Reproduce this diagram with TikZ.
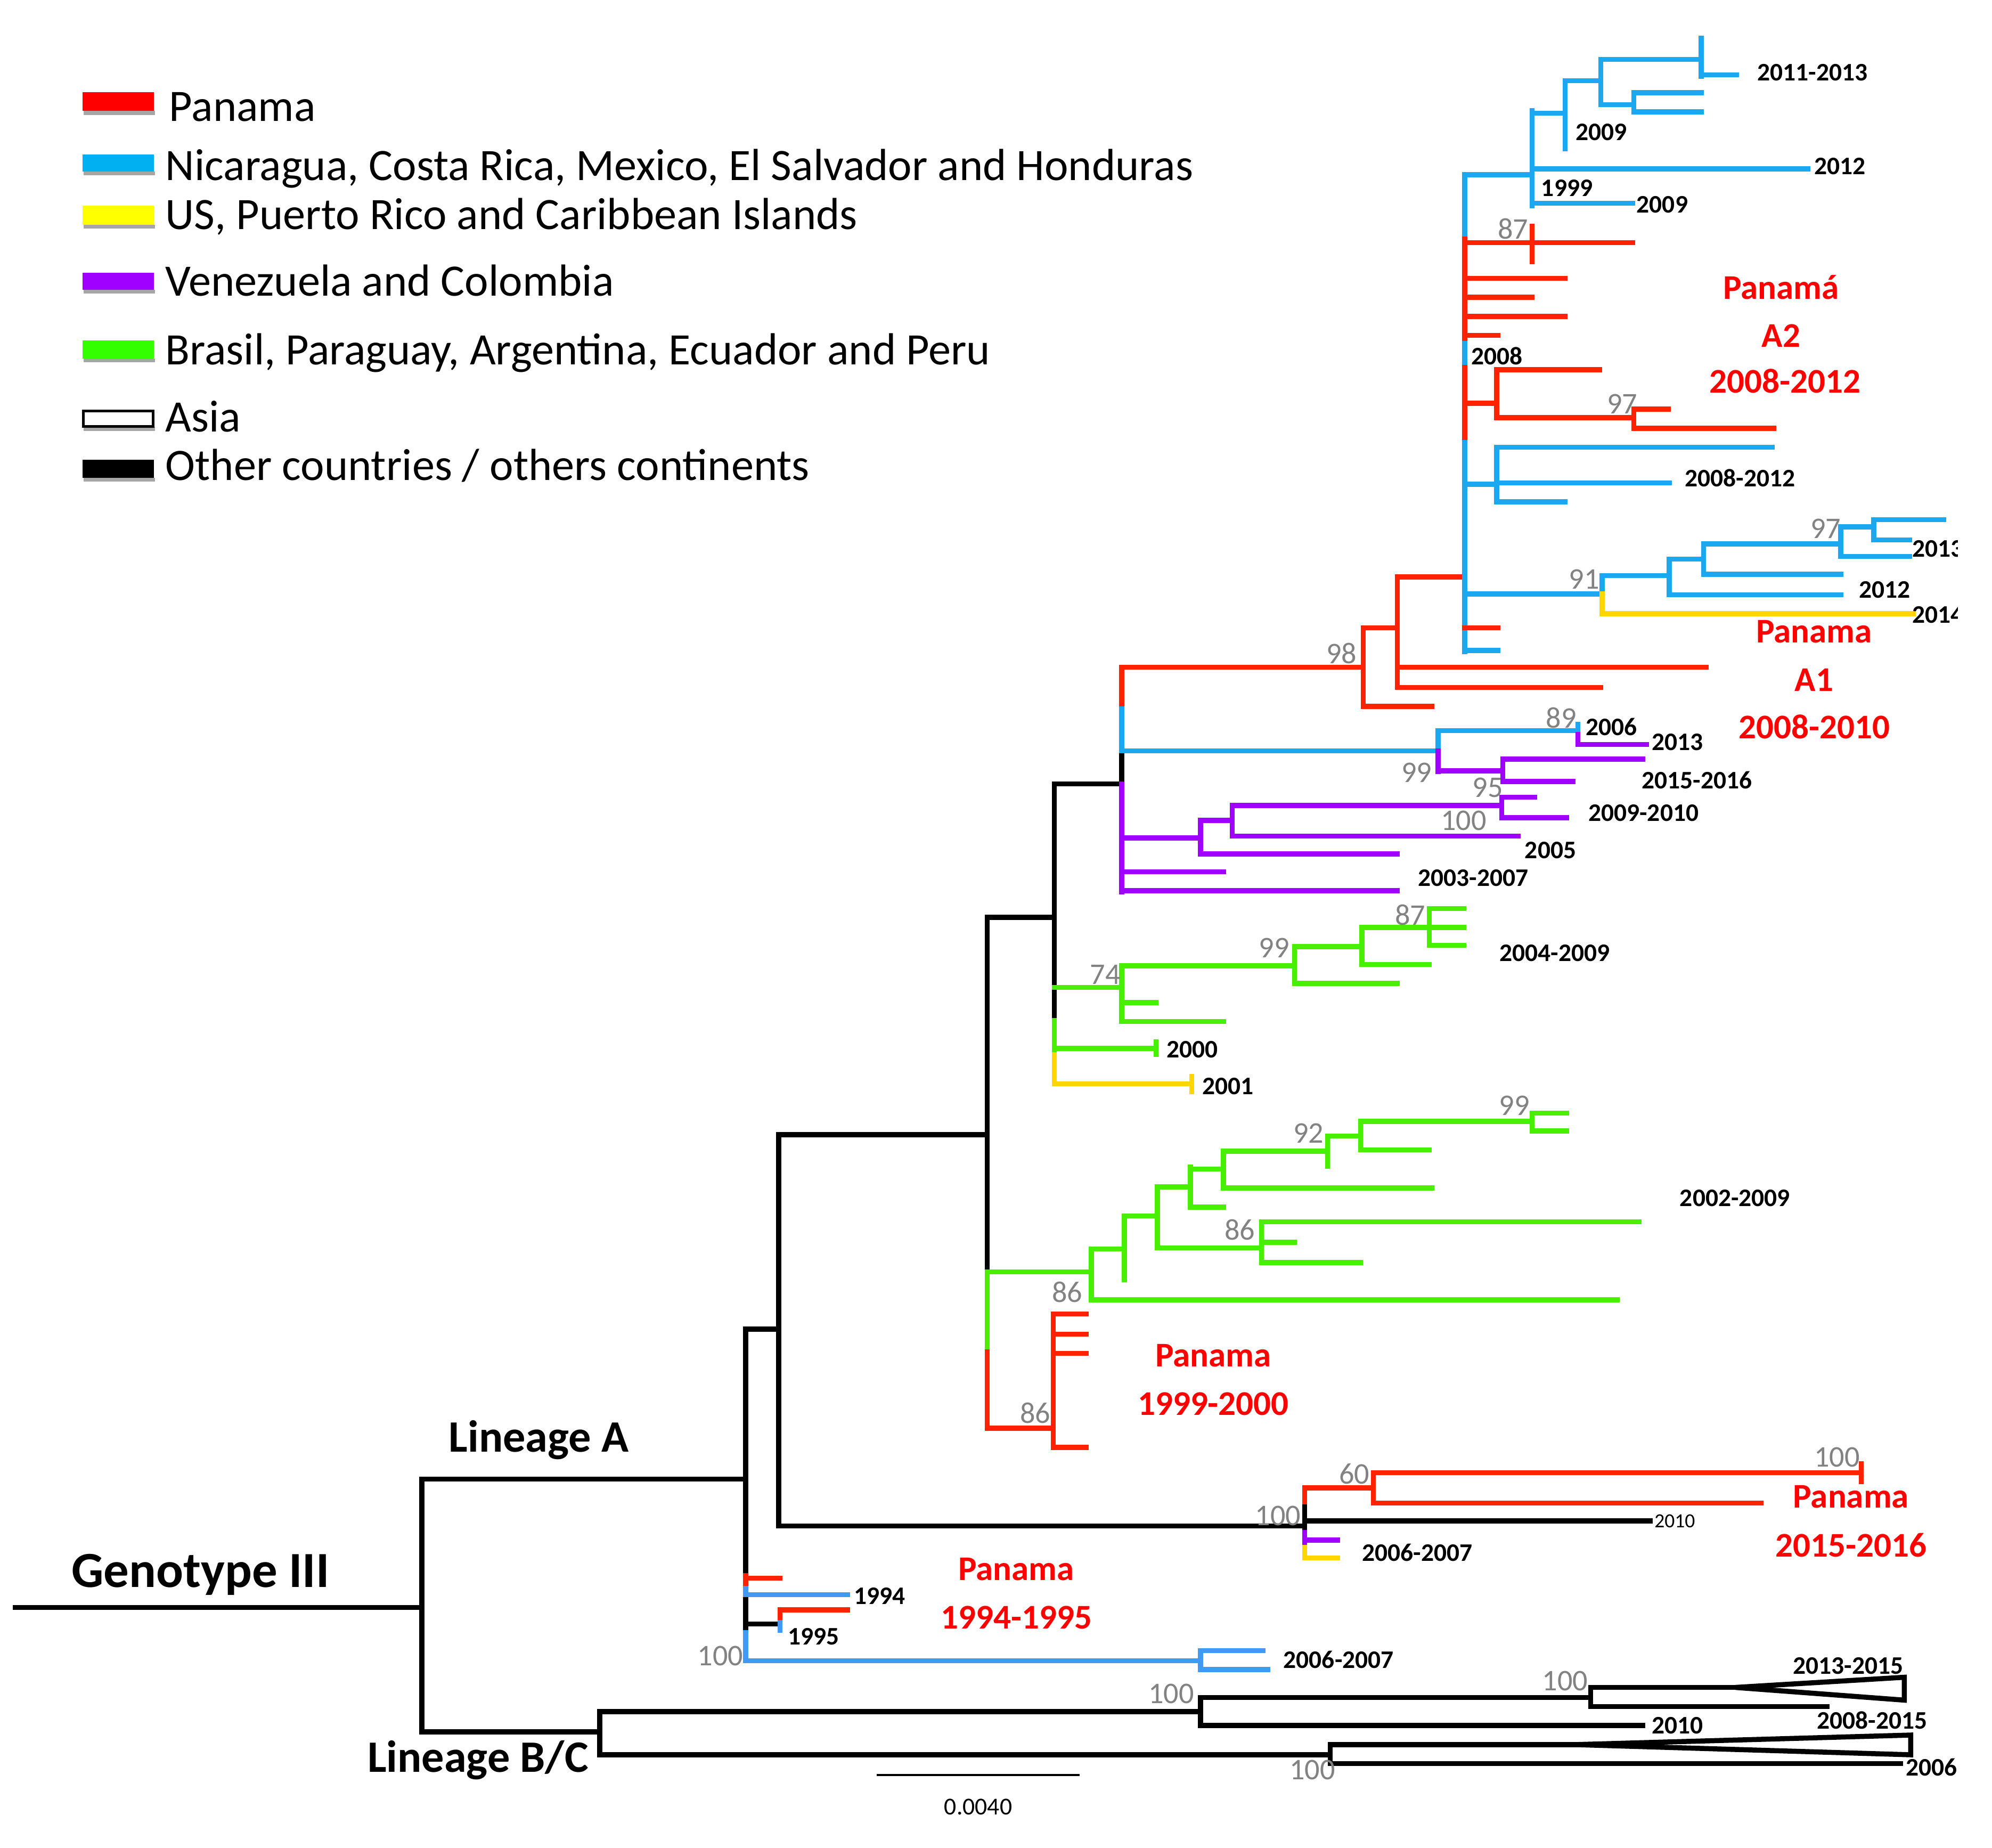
\documentclass[tikz,border=0pt]{standalone}
\usepackage{fontspec}
\setmainfont{Carlito}
\definecolor{pred}{RGB}{255,34,0}
\definecolor{pblue}{RGB}{28,168,240}
\definecolor{pbluetwo}{RGB}{64,154,245}
\definecolor{pyel}{RGB}{255,214,0}
\definecolor{ppur}{RGB}{160,0,255}
\definecolor{pgrn}{RGB}{72,240,0}
\definecolor{sgray}{RGB}{130,130,130}
\definecolor{lred}{RGB}{255,0,0}
\definecolor{lblue}{RGB}{0,176,240}
\definecolor{lyel}{RGB}{255,255,0}
\definecolor{lpur}{RGB}{160,0,255}
\definecolor{lgrn}{RGB}{51,255,0}
\newcommand{\HBr}[4][black]{\draw[branch,#1] (#2,#4) -- (#3,#4);}
\newcommand{\VBr}[4][black]{\draw[branch,#1] (#2,#3) -- (#2,#4);}
\newcommand{\LegBar}[3]{\fill[black!35] (66,#3) rectangle (122,#3+3);\fill[#1] (65,#2) rectangle (121,#3);}
\begin{document}
\begin{tikzpicture}[x=0.02385cm,y=-0.02385cm,
  branch/.style={line width=2.7pt,line cap=rect},
  datelab/.style={font=\fontsize{13.5}{14}\selectfont\bfseries,anchor=west,inner sep=0pt},
  suplab/.style={font=\fontsize{16}{17}\selectfont,text=sgray,inner sep=0pt},
  grplab/.style={font=\fontsize{18.5}{20}\selectfont\bfseries,text=lred,inner sep=0pt},
  legtext/.style={font=\fontsize{24}{26}\selectfont,anchor=base west,inner sep=0pt},
  biglab/.style={font=\fontsize{24}{26}\selectfont\bfseries,anchor=base west,inner sep=0pt}]
\useasboundingbox (0,0) rectangle (1568,1454);

% ---------- legend ----------
\LegBar{lred}{72.6}{87.4}
\LegBar{lblue}{121.6}{135}
\LegBar{lyel}{162}{177}
\LegBar{lpur}{214.7}{228}
\LegBar{lgrn}{268}{282}
\fill[black!35] (66,336) rectangle (122,339);
\draw[line width=1.3pt,fill=white] (65.5,323.5) rectangle (120.5,335.5);
\LegBar{black}{362}{376}
\node[legtext] (lg1) at (133,95.3) {Panama};
\node[legtext] (lg2) at (130,142) {Nicaragua, Costa Rica, Mexico, El Salvador and Honduras};
\node[legtext] (lg3) at (130,180.5) {US, Puerto Rico and Caribbean Islands};
\node[legtext] (lg4) at (130,232.8) {Venezuela and Colombia};
\node[legtext] (lg5) at (130,287) {Brasil, Paraguay, Argentina, Ecuador and Peru};
\node[legtext] (lg6) at (130,339.6) {Asia};
\node[legtext] (lg7) at (130,378) {Other countries / others continents};

% ---------- backbone ----------
\HBr{12}{332}{1265}
\VBr{332}{1164}{1363}
\HBr{332}{587}{1164}
\HBr{332}{472}{1363}
\VBr{587}{1046}{1240}
\VBr[pred]{587}{1240}{1250}
\VBr[pbluetwo]{587}{1250}{1259}
\VBr{587}{1259}{1285}
\VBr[pbluetwo]{587}{1285}{1307}
\HBr[pred]{587}{614}{1242}
\HBr[pbluetwo]{587}{667}{1255}
\HBr{587}{614}{1278}
\VBr[pred]{614}{1267}{1277}
\VBr[pbluetwo]{614}{1277}{1283}
\HBr[pred]{614}{667}{1267}
\HBr[pbluetwo]{587}{945}{1307}
\VBr[pbluetwo]{945}{1299}{1314}
\HBr[pbluetwo]{945}{994}{1299}
\HBr[pbluetwo]{945}{998}{1314}

\HBr{587}{613}{1046}
\VBr{613}{893}{1201}
\HBr{613}{777}{893}
\HBr{613}{1027}{1201}

% node 1027
\VBr[pred]{1027}{1171}{1186}
\VBr{1027}{1186}{1206}
\VBr[ppur]{1027}{1206}{1218}
\VBr[pyel]{1027}{1218}{1226}
\HBr[pred]{1027}{1081}{1171}
\VBr[pred]{1081}{1159}{1183}
\HBr[pred]{1081}{1465}{1159}
\VBr[pred]{1465}{1152}{1166}
\HBr[pred]{1081}{1386}{1183}
\HBr{1027}{1299}{1197}
\HBr[ppur]{1027}{1053}{1212}
\HBr[pyel]{1027}{1053}{1226}

% ---------- lineage B/C ----------
\VBr{472}{1347}{1381}
\HBr{472}{945}{1347}
\HBr{472}{1047}{1381}
\VBr{945}{1336}{1358}
\HBr{945}{1252}{1336}
\HBr{945}{1293}{1358}
\VBr{1252}{1328}{1343}
\HBr{1252}{1366}{1328}
\draw[branch,line join=miter,fill=white] (1366,1328) -- (1499,1320) -- (1499,1338) -- cycle;
\HBr{1252}{1438}{1343}
\VBr{1047}{1373}{1388}
\HBr{1047}{1240}{1373}
\draw[branch,line join=miter,fill=white] (1240,1373) -- (1504,1365.5) -- (1504,1381) -- cycle;
\HBr{1047}{1496}{1388}

% ---------- node 777 ----------
\VBr{777}{722}{1001}
\VBr[pgrn]{777}{1001}{1064}
\VBr[pred]{777}{1064}{1124}
\HBr{777}{830}{722}
\HBr[pgrn]{777}{859}{1001}
\HBr[pred]{777}{829}{1124}
\VBr[pred]{829}{1034}{1139}
\HBr[pred]{829}{855}{1034}
\HBr[pred]{829}{855}{1050}
\HBr[pred]{829}{855}{1065}
\HBr[pred]{829}{855}{1139}

% green clade lower
\VBr[pgrn]{859}{983}{1023}
\HBr[pgrn]{859}{885}{983}
\HBr[pgrn]{859}{1273}{1023}
\VBr[pgrn]{885}{957}{1007}
\HBr[pgrn]{885}{911}{957}
\VBr[pgrn]{911}{934}{982}
\HBr[pgrn]{911}{937}{934}
\HBr[pgrn]{911}{993}{982}
\VBr[pgrn]{937}{918.5}{950}
\HBr[pgrn]{937}{963}{920}
\HBr[pgrn]{937}{963}{950}
\VBr[pgrn]{963}{906}{935}
\HBr[pgrn]{963}{1045}{906}
\HBr[pgrn]{963}{1127}{935}
\VBr[pgrn]{1045}{894}{918}
\HBr[pgrn]{1045}{1071}{894}
\VBr[pgrn]{1071}{882.5}{905}
\HBr[pgrn]{1071}{1206}{882.5}
\HBr[pgrn]{1071}{1125}{905}
\VBr[pgrn]{1206}{876}{890}
\HBr[pgrn]{1206}{1233}{876}
\HBr[pgrn]{1206}{1233}{890}
\VBr[pgrn]{993}{961.5}{993.7}
\HBr[pgrn]{993}{1290}{961.5}
\HBr[pgrn]{993}{1019}{977.7}
\HBr[pgrn]{993}{1071}{993.7}

% ---------- node 830 ----------
\VBr{830}{617}{803}
\VBr[pgrn]{830}{803}{830}
\VBr[pyel]{830}{830}{853}
\HBr{830}{883}{617}
\HBr[pgrn]{830}{883}{777}
\HBr[pgrn]{830}{910}{825}
\VBr[pgrn]{910}{820}{830}
\HBr[pyel]{830}{938}{853}
\VBr[pyel]{938}{847}{859}
\VBr[pgrn]{883}{760}{804}
\HBr[pgrn]{883}{1019}{760}
\HBr[pgrn]{883}{910}{789}
\HBr[pgrn]{883}{963}{804}
\VBr[pgrn]{1019}{745}{774}
\HBr[pgrn]{1019}{1072}{745}
\HBr[pgrn]{1019}{1100}{774}
\VBr[pgrn]{1072}{730}{759}
\HBr[pgrn]{1072}{1125}{730}
\HBr[pgrn]{1072}{1125}{759}
\VBr[pgrn]{1125}{715}{744}
\HBr[pgrn]{1125}{1152}{715}
\HBr[pgrn]{1125}{1152}{730}
\HBr[pgrn]{1125}{1152}{744}

% ---------- node 883 (upper) ----------
\VBr[pred]{883}{525}{558}
\VBr[pblue]{883}{558}{592}
\VBr{883}{592}{617}
\VBr[ppur]{883}{617}{702}
\HBr[pred]{883}{1073}{525}
\HBr[pblue]{883}{1132}{591}
\HBr[ppur]{883}{945}{659.5}
\HBr[ppur]{883}{963}{686}
\HBr[ppur]{883}{1100}{701}
\VBr[ppur]{945}{645.6}{672}
\HBr[ppur]{945}{970}{645.6}
\HBr[ppur]{945}{1100}{672}
\VBr[ppur]{970}{634}{658}
\HBr[ppur]{970}{1182}{634}
\HBr[ppur]{970}{1195}{658}
\VBr[ppur]{1182}{627.5}{643.6}
\HBr[ppur]{1182}{1208}{627.5}
\HBr[ppur]{1182}{1233}{643.6}
\VBr[pblue]{1132}{575}{591}
\VBr[ppur]{1132}{591}{607}
\HBr[pblue]{1132}{1242}{575}
\VBr[pblue]{1242}{570}{578}
\VBr[ppur]{1242}{578}{586}
\HBr[ppur]{1242}{1296}{586}
\HBr[ppur]{1132}{1183}{606.6}
\VBr[ppur]{1183}{597.5}{615}
\HBr[ppur]{1183}{1293}{597.5}
\HBr[ppur]{1183}{1238}{615}

% ---------- node 98 ----------
\VBr[pred]{1073}{494}{556}
\HBr[pred]{1073}{1100}{494}
\HBr[pred]{1073}{1127}{556}
\VBr[pred]{1100}{454}{541}
\HBr[pred]{1100}{1153}{454}
\HBr[pred]{1100}{1343}{525}
\HBr[pred]{1100}{1260}{541}

% ---------- node 1153 ----------
\VBr[pblue]{1153}{137.6}{188}
\VBr[pred]{1153}{188}{270.5}
\VBr[pblue]{1153}{270.5}{289.3}
\VBr[pred]{1153}{289.3}{348.3}
\VBr[pblue]{1153}{348.3}{513}
\HBr[pblue]{1153}{1206}{137.6}
\VBr[pblue]{1206}{87}{162}
\HBr[pblue]{1206}{1232}{89}
\VBr[pblue]{1232}{63.6}{117}
\HBr[pblue]{1232}{1260}{63.6}
\VBr[pblue]{1260}{46.8}{82.4}
\HBr[pblue]{1260}{1339}{46.8}
\VBr[pblue]{1339}{30}{60}
\HBr[pblue]{1339}{1367}{59}
\HBr[pblue]{1260}{1286}{82.4}
\VBr[pblue]{1286}{73}{88}
\HBr[pblue]{1286}{1339}{73}
\HBr[pblue]{1286}{1339}{88}
\HBr[pblue]{1206}{1423}{133}
\HBr[pblue]{1206}{1285}{160}
\HBr[pred]{1153}{1285}{191}
\VBr[pred]{1206}{178}{206}
\HBr[pred]{1153}{1232}{219}
\HBr[pred]{1153}{1206}{234}
\HBr[pred]{1153}{1232}{249}
\HBr[pred]{1153}{1179}{264}
\HBr[pred]{1153}{1178}{317.4}
\VBr[pred]{1178}{291}{328.7}
\HBr[pred]{1178}{1259}{291}
\HBr[pred]{1178}{1286}{328.7}
\VBr[pred]{1286}{322}{337}
\HBr[pred]{1286}{1313}{322}
\HBr[pred]{1286}{1396}{337}
\HBr[pblue]{1153}{1178}{381}
\VBr[pblue]{1178}{352}{395}
\HBr[pblue]{1178}{1395}{352}
\HBr[pblue]{1178}{1314}{380}
\HBr[pblue]{1178}{1232}{395}
\HBr[pblue]{1153}{1261}{467.5}
\VBr[pblue]{1261}{453}{467.5}
\VBr[pyel]{1261}{467.5}{483}
\HBr[pblue]{1261}{1314}{453}
\HBr[pyel]{1261}{1506}{483}
\VBr[pblue]{1314}{440}{468}
\HBr[pblue]{1314}{1341}{440}
\HBr[pblue]{1314}{1449}{468}
\VBr[pblue]{1341}{428}{452}
\HBr[pblue]{1341}{1449}{428}
\HBr[pblue]{1341}{1449}{452}
\VBr[pblue]{1449}{414.7}{438}
\HBr[pblue]{1449}{1475}{414.7}
\HBr[pblue]{1449}{1503}{438}
\VBr[pblue]{1475}{409}{425}
\HBr[pblue]{1475}{1530}{409}
\HBr[pblue]{1475}{1503}{425}
\HBr[pred]{1153}{1179}{494}
\HBr[pblue]{1153}{1179}{512}

% ---------- scale bar ----------
\draw[line width=1.3pt] (690,1397) -- (850,1397);
\node[font=\fontsize{13}{14}\selectfont,inner sep=0pt] (sc) at (770,1422) {0.0040};

% ---------- big labels ----------
\node[font=\fontsize{27}{29}\selectfont\bfseries,anchor=base west,inner sep=0pt] (g3) at (56,1249) {Genotype III};
\node[biglab] (la) at (353,1142.8) {Lineage A};
\node[biglab] (lbc) at (289,1394.8) {Lineage B/C};

% ---------- support values ----------
\node[suplab] (s1) at (1191,180) {87};
\node[suplab] (s2) at (1277,318) {97};
\node[suplab] (s3) at (1437,416) {97};
\node[suplab] (s4) at (1247,456) {91};
\node[suplab] (s5) at (1056,514) {98};
\node[suplab] (s6) at (1229,565) {89};
\node[suplab] (s7) at (1115,608) {99};
\node[suplab] (s8) at (1171,620) {95};
\node[suplab] (s9) at (1152,646) {100};
\node[suplab] (s10) at (1110,720) {87};
\node[suplab] (s11) at (1003,746) {99};
\node[suplab] (s12) at (870,767) {74};
\node[suplab] (s13) at (1192,870) {99};
\node[suplab] (s14) at (1030,892) {92};
\node[suplab] (s15) at (976,968) {86};
\node[suplab] (s16) at (840,1017) {86};
\node[suplab] (s17) at (815,1112) {86};
\node[suplab] (s18) at (1066,1160) {60};
\node[suplab] (s19) at (1446,1147) {100};
\node[suplab] (s20) at (1006,1193) {100};
\node[suplab] (s21) at (567,1303) {100};
\node[suplab] (s22) at (922,1333) {100};
\node[suplab] (s23) at (1232,1323) {100};
\node[suplab] (s24) at (1033,1393) {100};

% ---------- date labels ----------
\node[datelab] (d1) at (1383,57) {2011-2013};
\node[datelab] (d2) at (1240,104) {2009};
\node[datelab] (d3) at (1428,131) {2012};
\node[datelab] (d4) at (1213,148) {1999};
\node[datelab] (d5) at (1288,161) {2009};
\node[datelab] (d6) at (1158,280) {2008};
\node[datelab] (d7) at (1326,376) {2008-2012};
\begin{scope}
\clip (0,0) rectangle (1541,1454);
\node[datelab] (d8) at (1505,432) {2013};
\node[datelab] (d10) at (1505,484) {2014};
\end{scope}
\node[datelab] (d9) at (1463,464) {2012};
\node[datelab] (d11) at (1248,572) {2006};
\node[datelab] (d12) at (1300,584) {2013};
\node[datelab] (d13) at (1292,614) {2015-2016};
\node[datelab] (d14) at (1250,640) {2009-2010};
\node[datelab] (d15) at (1200,669) {2005};
\node[datelab] (d16) at (1116,691) {2003-2007};
\node[datelab] (d17) at (1180,750) {2004-2009};
\node[datelab] (d18) at (918,826) {2000};
\node[datelab] (d19) at (946,855) {2001};
\node[datelab] (d20) at (1322,943) {2002-2009};
\node[font=\fontsize{10.7}{11}\selectfont,anchor=west,inner sep=0pt] (d21) at (1302,1197) {2010};
\node[datelab] (d22) at (1072,1222) {2006-2007};
\node[datelab] (d23) at (672,1256) {1994};
\node[datelab] (d24) at (620,1288) {1995};
\node[datelab] (d25) at (1010,1306) {2006-2007};
\node[datelab] (d26) at (1411,1311) {2013-2015};
\node[datelab] (d27) at (1300,1358) {2010};
\node[datelab] (d28) at (1430,1354) {2008-2015};
\node[datelab] (d29) at (1500,1391) {2006};

% ---------- group labels ----------
\node[grplab] (a2a) at (1402,226) {Panamá};
\node[grplab] (a2b) at (1402,264) {A2};
\node[grplab] (a2c) at (1405,300) {2008-2012};
\node[grplab] (a1a) at (1428,497) {Panama};
\node[grplab] (a1b) at (1428,535) {A1};
\node[grplab] (a1c) at (1428,572) {2008-2010};
\node[grplab] (p99a) at (955,1067) {Panama};
\node[grplab] (p99b) at (955,1105) {1999-2000};
\node[grplab] (p15a) at (1457,1178) {Panama};
\node[grplab] (p15b) at (1457,1216) {2015-2016};
\node[grplab] (p94a) at (800,1235) {Panama};
\node[grplab] (p94b) at (800,1273) {1994-1995};
\end{tikzpicture}
\end{document}
